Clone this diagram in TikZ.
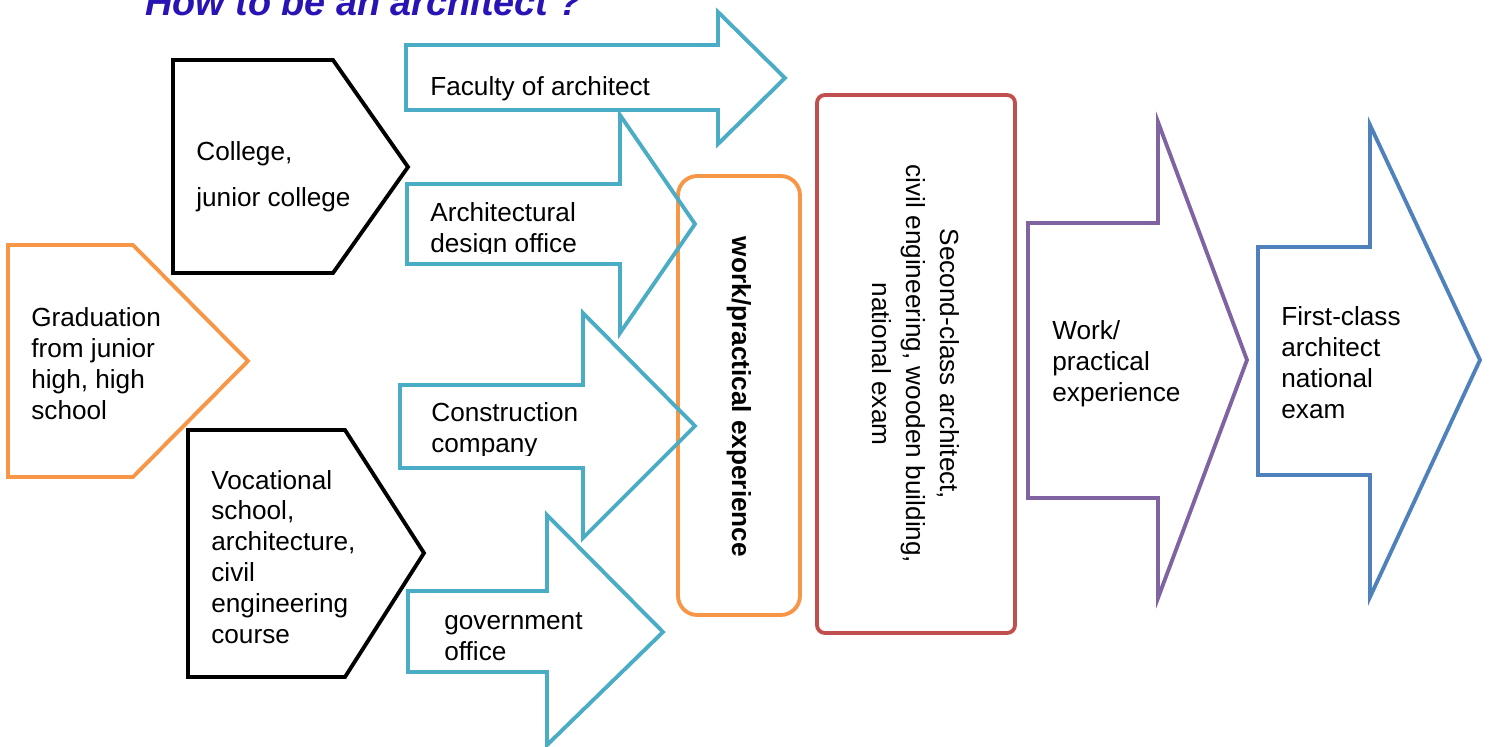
\documentclass[tikz,border=0pt]{standalone}
\usepackage{fontspec}
\setmainfont{Liberation Sans}
\definecolor{corange}{HTML}{F79646}
\definecolor{ccyan}{HTML}{4BACC6}
\definecolor{cred}{HTML}{C0504D}
\definecolor{cpurple}{HTML}{8064A2}
\definecolor{cblue}{HTML}{4F81BD}
\definecolor{ctitle}{RGB}{40,20,180}
\begin{document}
\begin{tikzpicture}[x=0.02cm,y=-0.02cm,
  shp/.style={line width=2.2pt, line join=miter},
  txt/.style={inner sep=0pt, anchor=west, align=left, font=\fontsize{14.9}{17.6}\selectfont},
  vtxt/.style={inner sep=0pt, rotate=-90, align=center, font=\fontsize{14.9}{19.3}\selectfont}]
\useasboundingbox (0,0) rectangle (1489,747);
\clip (0,0) rectangle (1489,747);

% title
\node[anchor=base west, inner sep=0pt, text=ctitle, font=\fontsize{21.5}{24}\selectfont\bfseries\itshape] (title) at (145,15) {How to be an architect ?};

% boxes behind
\draw[shp, corange, rounded corners=11pt] (678,176) rectangle (800,615);
\draw[shp, cred, rounded corners=4.5pt] (817,95) rectangle (1015,633);

% orange pentagon
\draw[shp, corange] (8,245) -- (133,245) -- (248,361) -- (133,477) -- (8,477) -- cycle;
% black pentagons
\draw[shp, black] (173,60) -- (333,60) -- (408,167) -- (333,273) -- (173,273) -- cycle;
\draw[shp, black] (188,430) -- (345,430) -- (424,553) -- (345,677) -- (188,677) -- cycle;

% cyan arrows
\draw[shp, ccyan] (406,45) -- (718,45) -- (718,12) -- (785,78) -- (718,144) -- (718,110) -- (406,110) -- cycle;
\draw[shp, ccyan] (407,184) -- (620,184) -- (620,115) -- (695,224) -- (620,333) -- (620,264) -- (407,264) -- cycle;
\draw[shp, ccyan] (400,385) -- (583,385) -- (583,313) -- (695,426) -- (583,538) -- (583,468) -- (400,468) -- cycle;
\draw[shp, ccyan] (408,591) -- (547,591) -- (547,515) -- (663,632) -- (547,745) -- (547,672) -- (408,672) -- cycle;

% purple and blue arrows
\draw[shp, cpurple] (1028,223) -- (1158,223) -- (1158,122) -- (1247,360) -- (1158,598) -- (1158,498) -- (1028,498) -- cycle;
\draw[shp, cblue] (1258,247) -- (1370,247) -- (1370,125) -- (1480,360) -- (1370,597) -- (1370,475) -- (1258,475) -- cycle;

% texts
\node[txt] (grad) at (31,364) {Graduation\\from junior\\high, high\\school};
\node[txt, font=\fontsize{14.9}{26}\selectfont] (college) at (196,177) {College,\\junior college};
\node[txt] (voc) at (211,557) {Vocational\\school,\\architecture,\\civil\\engineering\\course};
\node[txt] (fac) at (430,89) {Faculty of architect};
\begin{scope}
\clip (400,180) rectangle (700,253);
\node[txt] (arch) at (430,230) {Architectural\\design office};
\end{scope}
\begin{scope}
\clip (400,380) rectangle (700,455);
\node[txt] (cons) at (431,430) {Construction\\company};
\end{scope}
\node[txt] (gov) at (444,637) {government\\office};
\node[vtxt, font=\fontsize{14.9}{19.3}\selectfont\bfseries] (exp) at (739,397) {work/practical experience};
\node[vtxt] (exam2) at (916,364) {Second-class architect,\\civil engineering, wooden building,\\national exam};
\node[txt] (work) at (1052,364) {Work/\\practical\\experience};
\node[txt] (first) at (1281,363) {First-class\\architect\\national\\exam};
\end{tikzpicture}
\end{document}
